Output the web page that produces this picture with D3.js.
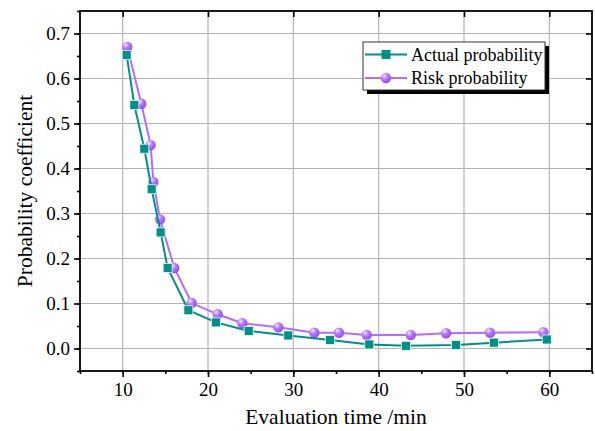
<!DOCTYPE html>
<html><head><meta charset="utf-8">
<script src="https://cdn.jsdelivr.net/npm/d3@7"></script>
<style>html,body{margin:0;padding:0;background:#fff;}svg{display:block;}</style>
</head><body>
<svg id="c" width="595" height="431"></svg>
<script>
const actualX = [10.47, 11.37, 12.54, 13.4, 14.45, 15.27, 17.7, 20.94, 24.77, 29.41, 34.3, 38.9, 43.2, 49.07, 53.5, 59.7];
const actualY = [0.652, 0.541, 0.444, 0.354, 0.258, 0.179, 0.085, 0.058, 0.039, 0.029, 0.019, 0.009, 0.006, 0.008, 0.013, 0.020];
const riskX = [10.54, 12.19, 13.28, 13.6, 14.38, 16.05, 18.09, 21.13, 24.02, 28.24, 32.46, 35.35, 38.6, 43.75, 47.9, 53.05, 59.3];
const riskY = [0.670, 0.544, 0.452, 0.370, 0.287, 0.179, 0.101, 0.076, 0.056, 0.047, 0.035, 0.035, 0.030, 0.030, 0.034, 0.035, 0.036];
const xTicks = [10, 20, 30, 40, 50, 60];
const yTicks = [0.0, 0.1, 0.2, 0.3, 0.4, 0.5, 0.6, 0.7];
const seriesNames = ["Actual probability", "Risk probability"];
const xTitle = "Evaluation time /min";
const yTitle = "Probability coefficient";

const teal = "#00908a", purple = "#b36cff";
const svg = d3.select("#c");
const L = 80, R = 592, T = 11, B = 371;
const x = d3.scaleLinear().domain([5, 65]).range([L, R]);
const y = d3.scaleLinear().domain([-0.05, 0.75]).range([B, T]);
const font = "'Liberation Serif','Times New Roman',serif";

const defs = svg.append("defs");
const rg = defs.append("radialGradient").attr("id", "ball").attr("cx", "35%").attr("cy", "30%").attr("r", "70%");
rg.append("stop").attr("offset", "0%").attr("stop-color", "#f4e6ff");
rg.append("stop").attr("offset", "45%").attr("stop-color", "#b877ff");
rg.append("stop").attr("offset", "100%").attr("stop-color", "#9a4fe8");

// grid
svg.append("g").selectAll("line").data(xTicks).join("line")
  .attr("x1", d => x(d)).attr("x2", d => x(d)).attr("y1", T).attr("y2", B)
  .attr("stroke", "#b4b4b4").attr("stroke-width", 1.2);
svg.append("g").selectAll("line").data(yTicks).join("line")
  .attr("y1", d => y(d)).attr("y2", d => y(d)).attr("x1", L).attr("x2", R)
  .attr("stroke", "#b4b4b4").attr("stroke-width", 1.2);

// axes
const xMinor = d3.range(5, 66, 5);
const yMinor = d3.range(-0.05, 0.751, 0.05);
const bottom = svg.append("g").attr("transform", `translate(0,${B})`)
  .call(d3.axisBottom(x).tickValues(xTicks).tickFormat(d3.format("d")).tickSize(6).tickPadding(6));
svg.append("g").attr("transform", `translate(0,${B})`)
  .call(d3.axisBottom(x).tickValues(xMinor).tickFormat("").tickSize(3)).call(g => g.select(".domain").remove());
const left = svg.append("g").attr("transform", `translate(${L},0)`)
  .call(d3.axisLeft(y).tickValues(yTicks).tickFormat(d3.format(".1f")).tickSize(6).tickPadding(4));
svg.append("g").attr("transform", `translate(${L},0)`)
  .call(d3.axisLeft(y).tickValues(yMinor).tickFormat("").tickSize(3)).call(g => g.select(".domain").remove());
svg.append("g").attr("transform", `translate(0,${T})`)
  .call(d3.axisBottom(x).tickValues(xTicks).tickFormat("").tickSize(6)).call(g => g.select(".domain").remove());
svg.append("g").attr("transform", `translate(${R},0)`)
  .call(d3.axisLeft(y).tickValues(yTicks).tickFormat("").tickSize(6)).call(g => g.select(".domain").remove());
svg.selectAll(".tick line").attr("stroke", "#000").attr("stroke-width", 1.6);
svg.selectAll(".domain").remove();
[bottom, left].forEach(g => g.selectAll("text").attr("font-family", font).attr("font-size", 19).attr("fill", "#000"));

svg.append("rect").attr("x", L).attr("y", T).attr("width", R - L).attr("height", B - T)
  .attr("fill", "none").attr("stroke", "#000").attr("stroke-width", 1.8);

// titles
svg.append("text").attr("x", (L + R) / 2).attr("y", 424).attr("text-anchor", "middle")
  .attr("font-family", font).attr("font-size", 21.5).text(xTitle);
svg.append("text").attr("transform", `translate(32,${(T + B) / 2}) rotate(-90)`).attr("text-anchor", "middle")
  .attr("font-family", font).attr("font-size", 21.5).text(yTitle);

// series
const A = actualX.map((v, i) => [v, actualY[i]]);
const Rk = riskX.map((v, i) => [v, riskY[i]]);
const line = d3.line().x(d => x(d[0])).y(d => y(d[1]));
svg.append("path").datum(Rk).attr("d", line).attr("fill", "none").attr("stroke", purple).attr("stroke-width", 2);
svg.append("g").selectAll("circle").data(Rk).join("circle")
  .attr("cx", d => x(d[0])).attr("cy", d => y(d[1])).attr("r", 5.2).attr("fill", "url(#ball)");
svg.append("path").datum(A).attr("d", line).attr("fill", "none").attr("stroke", teal).attr("stroke-width", 2);
svg.append("g").selectAll("rect").data(A).join("rect")
  .attr("x", d => x(d[0]) - 4.5).attr("y", d => y(d[1]) - 4.5).attr("width", 9).attr("height", 9)
  .attr("fill", teal).attr("stroke", "#e8f6f5").attr("stroke-width", 0.8);

// legend
const lx = 363, ly = 42, lw = 182, lh = 48;
svg.append("rect").attr("x", lx + 4).attr("y", ly + 4).attr("width", lw).attr("height", lh).attr("fill", "#000");
svg.append("rect").attr("x", lx).attr("y", ly).attr("width", lw).attr("height", lh).attr("fill", "#fff")
  .attr("stroke", "#333").attr("stroke-width", 1);
const ent = svg.append("g").selectAll("g").data(seriesNames).join("g")
  .attr("transform", (d, i) => `translate(${lx},${ly + 12.5 + i * 23.5})`);
ent.append("line").attr("x1", 2).attr("x2", 44).attr("stroke", (d, i) => i ? purple : teal).attr("stroke-width", 2);
ent.filter((d, i) => i === 0).append("rect").attr("x", 18.5).attr("y", -4.5).attr("width", 9).attr("height", 9).attr("fill", teal);
ent.filter((d, i) => i === 1).append("circle").attr("cx", 23).attr("r", 5.2).attr("fill", "url(#ball)");
ent.append("text").attr("x", 48).attr("y", 6).attr("font-family", font).attr("font-size", 18).text(d => d);
</script>
</body></html>
